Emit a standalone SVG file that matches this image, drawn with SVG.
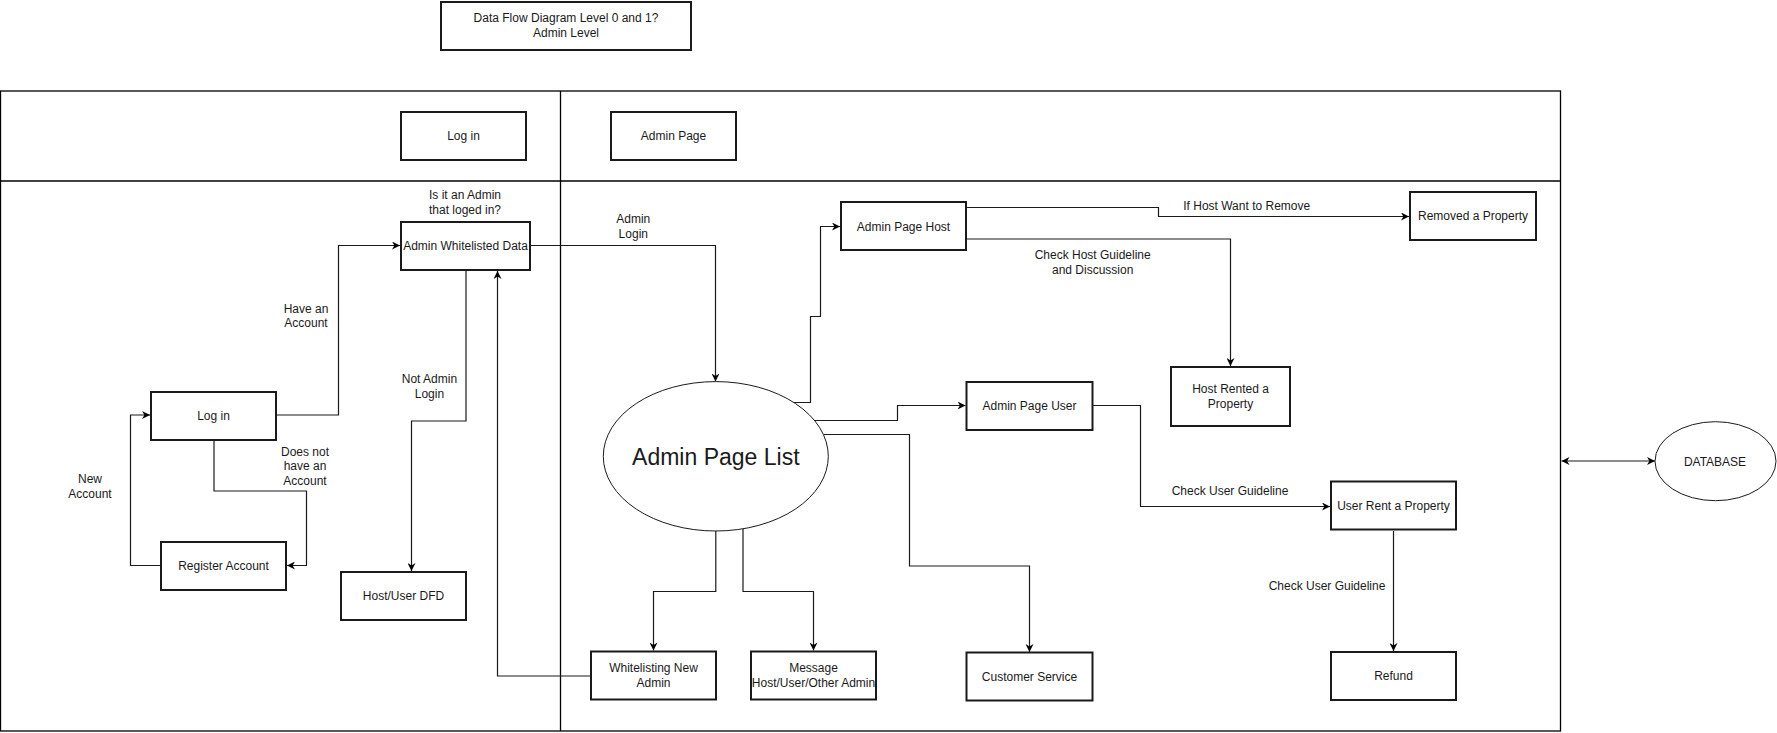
<svg xmlns="http://www.w3.org/2000/svg" width="1777" height="733" viewBox="0 0 1777 733">
<defs>
<marker id="arr" viewBox="0 0 10 10" refX="10" refY="5" markerWidth="8" markerHeight="8" markerUnits="userSpaceOnUse" orient="auto-start-reverse">
<path d="M0,0 L10,5 L0,10 L3,5 z" fill="#000"/>
</marker>
<style>
.box{fill:#fff;stroke:#1a1a1a;stroke-width:2}
.ell{fill:#fff;stroke:#1a1a1a;stroke-width:1}
.frame{fill:none;stroke:#000;stroke-width:1.3}
.c{fill:none;stroke:#1a1a1a;stroke-width:1.2;marker-end:url(#arr)}
text{font-family:"Liberation Sans",Arial,Helvetica,sans-serif;font-size:12px;fill:#1a1a1a;text-anchor:middle}
.big{font-size:23px}
</style>
</defs>
<rect width="1777" height="733" fill="#fff"/>
<g id="frame">
<rect class="frame" x="0.5" y="91" width="1560" height="640"/>
<line class="frame" x1="0.5" y1="181" x2="1560.5" y2="181"/>
<line class="frame" x1="560.5" y1="91" x2="560.5" y2="731"/>
</g>
<g id="title"><rect class="box" x="441" y="2" width="250" height="48"/><text x="566" y="22">Data Flow Diagram Level 0 and 1?</text><text x="566" y="37">Admin Level</text></g>
<g id="hdr-login"><rect class="box" x="401" y="112" width="125" height="48"/><text x="463.5" y="140">Log in</text></g>
<g id="hdr-admin"><rect class="box" x="611" y="112" width="125" height="48"/><text x="673.5" y="140">Admin Page</text></g>
<g id="connectors">
<path class="c" d="M277,415 H338.5 V245.5 H400"/>
<path class="c" d="M214,441 V491 H306.5 V565.5 H287"/>
<path class="c" d="M160,565.5 H130.5 V415 H150"/>
<path class="c" d="M466,271 V421 H411.5 V571"/>
<path class="c" d="M590,676 H497.5 V271"/>
<path class="c" d="M531,245.5 H715.5 V381.5"/>
<path class="c" d="M794,402.5 H810.5 V316.5 H820.5 V226.5 H840"/>
<path class="c" d="M814.7,420.5 H897.5 V405.5 H965.5"/>
<path class="c" d="M823.6,434.5 H909.5 V566 H1029.5 V652"/>
<path class="c" d="M715.8,531 V591.5 H653.5 V650.5"/>
<path class="c" d="M743,529 V591.5 H813.5 V650.5"/>
<path class="c" d="M967,207.5 H1158.5 V216.5 H1409"/>
<path class="c" d="M967,239 H1230.5 V366"/>
<path class="c" d="M1093,405.5 H1140.5 V506.5 H1330"/>
<path class="c" d="M1393.5,531 V651"/>
<path class="c" style="marker-start:url(#arr)" d="M1561.5,461 H1655"/>
<text x="465" y="199">Is it an Admin</text><text x="465" y="213.5">that loged in?</text>
<text x="633.3" y="223">Admin</text><text x="633.3" y="238">Login</text>
<text x="306" y="313">Have an</text><text x="306" y="327">Account</text>
<text x="429.4" y="383">Not Admin</text><text x="429.4" y="398">Login</text>
<text x="305" y="456">Does not</text><text x="305" y="470">have an</text><text x="305" y="485">Account</text>
<text x="90" y="483">New</text><text x="90" y="498">Account</text>
<text x="1246.7" y="210">If Host Want to Remove</text>
<text x="1092.7" y="259">Check Host Guideline</text><text x="1092.7" y="274">and Discussion</text>
<text x="1230" y="495">Check User Guideline</text>
<text x="1327" y="589.5">Check User Guideline</text>
</g>
<g id="awd"><rect class="box" x="401" y="222" width="129" height="48"/><text x="465.5" y="250">Admin Whitelisted Data</text></g>
<g id="login"><rect class="box" x="151" y="392" width="125" height="48"/><text x="213.5" y="420">Log in</text></g>
<g id="register"><rect class="box" x="161" y="542" width="125" height="48"/><text x="223.5" y="570">Register Account</text></g>
<g id="hostuserdfd"><rect class="box" x="341" y="572" width="125" height="48"/><text x="403.5" y="600">Host/User DFD</text></g>
<g id="adminpagelist"><ellipse class="ell" cx="715.8" cy="456.3" rx="112.5" ry="74.7"/><text class="big" x="715.8" y="464.5">Admin Page List</text></g>
<g id="aph"><rect class="box" x="841" y="202" width="125" height="48"/><text x="903.5" y="230.5">Admin Page Host</text></g>
<g id="removed"><rect class="box" x="1410" y="192" width="126" height="48"/><text x="1473" y="220">Removed a Property</text></g>
<g id="hostrented"><rect class="box" x="1171" y="367" width="119" height="59"/><text x="1230.5" y="393">Host Rented a</text><text x="1230.5" y="408">Property</text></g>
<g id="apu"><rect class="box" x="966.5" y="382" width="126" height="48"/><text x="1029.5" y="410">Admin Page User</text></g>
<g id="urp"><rect class="box" x="1331" y="481.5" width="125" height="48"/><text x="1393.5" y="510">User Rent a Property</text></g>
<g id="refund"><rect class="box" x="1331" y="652" width="125" height="48"/><text x="1393.5" y="680">Refund</text></g>
<g id="cs"><rect class="box" x="966.5" y="652.5" width="126" height="48"/><text x="1029.5" y="680.5">Customer Service</text></g>
<g id="wna"><rect class="box" x="591" y="651.5" width="125" height="48"/><text x="653.5" y="672">Whitelisting New</text><text x="653.5" y="687">Admin</text></g>
<g id="message"><rect class="box" x="751" y="651.5" width="125" height="48"/><text x="813.5" y="672">Message</text><text x="813.5" y="687">Host/User/Other Admin</text></g>
<g id="database"><ellipse class="ell" cx="1715.5" cy="461.2" rx="60.5" ry="39.5"/><text x="1715" y="465.5">DATABASE</text></g>
</svg>
